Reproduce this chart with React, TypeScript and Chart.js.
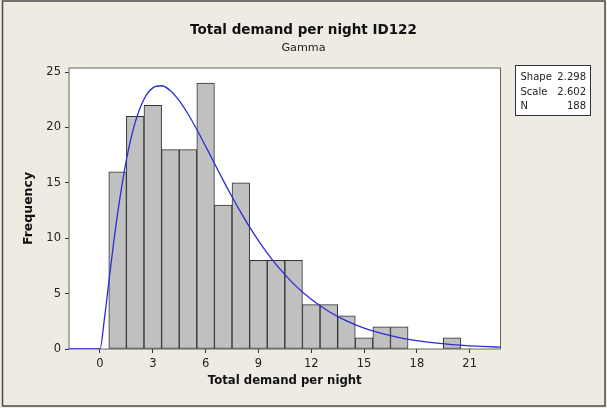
import React, { useEffect, useRef } from 'react';
import { Chart, registerables } from 'chart.js';

Chart.register(...registerables);

// ---- data ----
const binCenters = [1, 2, 3, 4, 5, 6, 7, 8, 9, 10, 11, 12, 13, 14, 15, 16, 17, 18, 19, 20];
const frequencies = [16, 21, 22, 18, 18, 24, 13, 15, 8, 8, 8, 4, 4, 3, 1, 2, 2, 0, 0, 1];

const curveX = [-1.76, 0, 0.25, 0.5, 0.75, 1, 1.5, 2, 2.5, 3, 3.5, 4, 4.5, 5, 5.5, 6, 6.5, 7, 7.5, 8, 8.5, 9, 9.5, 10, 11, 12, 13, 14, 15, 16, 17, 18, 19, 20, 21, 22, 22.75];
const curveY = [0, 0, 2.7, 6.02, 9.26, 12.22, 17.06, 20.45, 22.55, 23.57, 23.76, 23.32, 22.42, 21.21, 19.81, 18.3, 16.76, 15.22, 13.74, 12.33, 11.0, 9.78, 8.66, 7.64, 5.88, 4.49, 3.39, 2.54, 1.89, 1.4, 1.03, 0.76, 0.55, 0.4, 0.29, 0.21, 0.17];

const xTicks = [0, 3, 6, 9, 12, 15, 18, 21];
const yTicks = [0, 5, 10, 15, 20, 25];

const statLabels = ['Shape', 'Scale', 'N'];
const statValues = ['2.298', '2.602', '188'];

const titleText = 'Total demand per night ID122';
const subtitleText = 'Gamma';
const xTitle = 'Total demand per night';
const yTitle = 'Frequency';

const FONT = '"DejaVu Sans", Verdana, sans-serif';
const BG = '#eeebe3';

const backgroundPlugin = {
  id: 'minitabBg',
  beforeDraw(chart: any) {
    const { ctx, width, height, chartArea } = chart;
    ctx.save();
    ctx.fillStyle = BG;
    ctx.fillRect(0, 0, width, height);
    ctx.strokeStyle = '#4a4a4a';
    ctx.lineWidth = 1.5;
    ctx.strokeRect(2.5, 1, width - 4.5, height - 3);
    ctx.fillStyle = '#ffffff';
    ctx.fillRect(chartArea.left, chartArea.top, chartArea.right - chartArea.left, chartArea.bottom - chartArea.top);
    ctx.restore();
  },
  beforeDatasetsDraw(chart: any) {
    const { ctx, chartArea } = chart;
    ctx.save();
    ctx.strokeStyle = '#666';
    ctx.lineWidth = 1;
    ctx.strokeRect(chartArea.left, chartArea.top, chartArea.right - chartArea.left, chartArea.bottom - chartArea.top);
    ctx.restore();
  },
  afterDraw(chart: any) {
    const { ctx } = chart;
    ctx.save();
    const bx = 515.5, by = 65.5, bw = 75, bh = 50;
    ctx.fillStyle = '#ffffff';
    ctx.fillRect(bx, by, bw, bh);
    ctx.strokeStyle = '#333';
    ctx.lineWidth = 1;
    ctx.strokeRect(bx, by, bw, bh);
    ctx.font = `10px ${FONT}`;
    ctx.fillStyle = '#222';
    ctx.textBaseline = 'middle';
    const rows = [77.3, 92.1, 106.7];
    statLabels.forEach((lab, i) => {
      ctx.textAlign = 'left';
      ctx.fillText(lab, 520.5, rows[i]);
      ctx.textAlign = 'right';
      ctx.fillText(statValues[i], 586, rows[i]);
    });
    ctx.restore();
  },
};

export default function App() {
  const canvasRef = useRef<HTMLCanvasElement | null>(null);

  useEffect(() => {
    document.body.style.margin = '0';
    document.body.style.overflow = 'hidden';
    const canvas = canvasRef.current;
    if (!canvas) return;

    const tickFont = { family: FONT, size: 11.5 };

    const chart = new Chart(canvas, {
      type: 'bar',
      data: {
        datasets: [
          {
            type: 'line',
            data: curveX.map((x, i) => ({ x, y: curveY[i] })),
            borderColor: '#2b2bd9',
            borderWidth: 1.3,
            pointRadius: 0,
            fill: false,
            cubicInterpolationMode: 'monotone',
            order: 0,
          } as any,
          {
            type: 'bar',
            data: binCenters.map((x, i) => ({ x, y: frequencies[i] })),
            backgroundColor: '#c0c0c0',
            borderColor: '#333333',
            borderWidth: 1,
            borderSkipped: false,
            barPercentage: 1,
            categoryPercentage: 1,
            order: 1,
          } as any,
        ],
      },
      options: {
        animation: false,
        responsive: false,
        maintainAspectRatio: false,
        layout: { padding: { left: 0, right: 0, top: 0, bottom: 0 } },
        plugins: {
          legend: { display: false },
          tooltip: { enabled: false },
          title: {
            display: true,
            text: titleText,
            color: '#111',
            font: { family: FONT, size: 13.5, weight: 'bold' },
            padding: { top: 22, bottom: 2 },
          },
          subtitle: {
            display: true,
            text: subtitleText,
            color: '#222',
            font: { family: FONT, size: 11.2 },
            padding: { top: 1, bottom: 13.4 },
          },
        },
        scales: {
          x: {
            type: 'linear',
            min: -1.76,
            max: 22.75,
            offset: false,
            afterBuildTicks: (s: any) => {
              s.ticks = xTicks.map((v) => ({ value: v }));
            },
            afterFit: (s: any) => {
              s.height = 59;
            },
            grid: { drawOnChartArea: false, drawTicks: true, tickLength: 4, color: '#333', offset: false },
            border: { display: false },
            ticks: { padding: 4, font: tickFont, color: '#222', autoSkip: false, maxRotation: 0 },
            title: {
              display: true,
              text: xTitle,
              color: '#111',
              font: { family: FONT, size: 11.7, weight: 'bold' },
              padding: { top: 0, bottom: 20 },
            },
          },
          y: {
            type: 'linear',
            position: 'left',
            min: 0,
            max: 25.36,
            afterBuildTicks: (s: any) => {
              s.ticks = yTicks.map((v) => ({ value: v }));
            },
            afterFit: (s: any) => {
              s.width = 69;
            },
            grid: { drawOnChartArea: false, drawTicks: true, tickLength: 4, color: '#333' },
            border: { display: false },
            ticks: { padding: 4, font: tickFont, color: '#222', autoSkip: false },
            title: {
              display: true,
              text: yTitle,
              color: '#111',
              font: { family: FONT, size: 12.5, weight: 'bold' },
              padding: { top: 21.5, bottom: 0 },
            },
          },
          side: {
            type: 'linear',
            position: 'right',
            display: true,
            grid: { display: false },
            border: { display: false },
            ticks: { display: false },
            afterFit: (s: any) => {
              s.width = 106.5;
            },
          },
        },
      } as any,
      plugins: [backgroundPlugin],
    });

    return () => {
      chart.destroy();
    };
  }, []);

  return (
    <div style={{ width: 607, height: 408 }}>
      <canvas ref={canvasRef} width={607} height={408} style={{ display: 'block', width: 607, height: 408 }} />
    </div>
  );
}
